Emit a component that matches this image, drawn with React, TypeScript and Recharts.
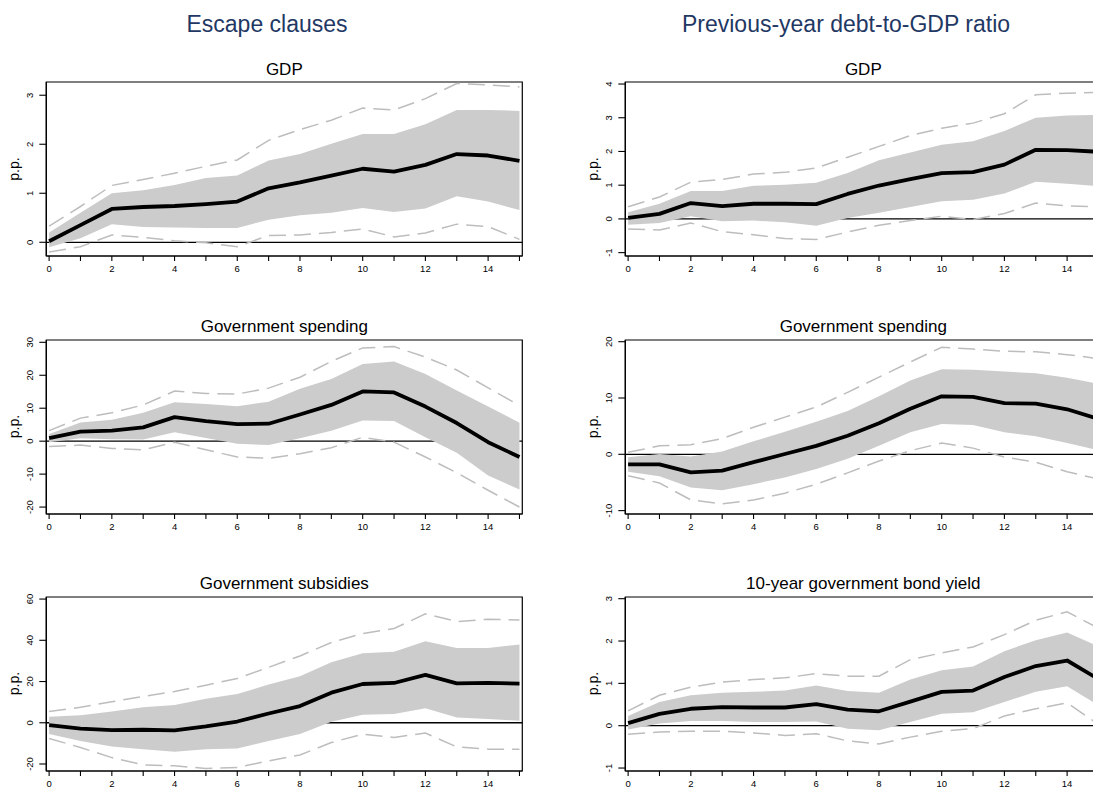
import React from 'react';
import { ComposedChart, Area, Line, XAxis, YAxis, ReferenceLine, ReferenceArea } from 'recharts';

const FONT = "'Liberation Sans', Arial, Helvetica, sans-serif";

// ---- data ----
const horizons = [0, 1, 2, 3, 4, 5, 6, 7, 8, 9, 10, 11, 12, 13, 14, 15];

const columnTitles = ['Escape clauses', 'Previous-year debt-to-GDP ratio'];

// Escape clauses – GDP
const escGdpMean = [0.02, 0.35, 0.68, 0.72, 0.74, 0.78, 0.83, 1.10, 1.22, 1.36, 1.50, 1.44, 1.58, 1.80, 1.77, 1.66];
const escGdpBandHi = [0.20, 0.60, 1.00, 1.06, 1.17, 1.31, 1.36, 1.67, 1.80, 2.01, 2.21, 2.21, 2.41, 2.70, 2.70, 2.68];
const escGdpBandLo = [-0.10, 0.08, 0.37, 0.31, 0.30, 0.29, 0.29, 0.46, 0.55, 0.60, 0.70, 0.62, 0.69, 0.94, 0.83, 0.66];
const escGdpCiHi = [0.33, 0.73, 1.16, 1.28, 1.41, 1.55, 1.68, 2.08, 2.30, 2.49, 2.74, 2.70, 2.93, 3.24, 3.21, 3.17];
const escGdpCiLo = [-0.20, -0.09, 0.15, 0.10, 0.03, -0.01, -0.09, 0.14, 0.15, 0.20, 0.27, 0.11, 0.19, 0.37, 0.32, 0.06];

// Debt ratio – GDP
const debtGdpMean = [0.03, 0.15, 0.47, 0.38, 0.45, 0.45, 0.44, 0.74, 0.99, 1.18, 1.36, 1.39, 1.61, 2.05, 2.04, 1.99];
const debtGdpBandHi = [0.20, 0.45, 0.83, 0.83, 0.98, 1.01, 1.07, 1.36, 1.74, 1.97, 2.20, 2.30, 2.61, 3.00, 3.07, 3.08];
const debtGdpBandLo = [-0.17, -0.12, 0.08, -0.07, -0.05, -0.10, -0.20, 0.03, 0.18, 0.35, 0.52, 0.57, 0.75, 1.10, 1.04, 0.97];
const debtGdpCiHi = [0.36, 0.65, 1.09, 1.17, 1.33, 1.38, 1.51, 1.83, 2.15, 2.47, 2.69, 2.84, 3.12, 3.68, 3.73, 3.75];
const debtGdpCiLo = [-0.30, -0.33, -0.12, -0.38, -0.47, -0.58, -0.61, -0.39, -0.19, -0.05, 0.08, -0.02, 0.16, 0.47, 0.39, 0.36];

// Escape clauses – Government spending
const escGovMean = [0.9, 2.9, 3.2, 4.2, 7.3, 6.1, 5.2, 5.3, 8.1, 11.0, 15.1, 14.8, 10.5, 5.5, -0.3, -4.8];
const escGovBandHi = [2.2, 5.7, 6.5, 8.6, 11.8, 11.3, 10.6, 12.0, 15.9, 18.9, 23.4, 24.2, 20.4, 15.4, 10.5, 5.6];
const escGovBandLo = [-0.3, 0.9, 0.6, 0.5, 2.7, 1.0, -0.8, -1.2, 0.9, 3.2, 6.3, 6.1, 1.2, -3.5, -10.4, -14.7];
const escGovCiHi = [3.2, 7.0, 8.6, 11.0, 15.2, 14.5, 14.3, 16.1, 19.4, 24.2, 28.3, 28.7, 25.5, 21.6, 16.2, 10.8];
const escGovCiLo = [-1.6, -1.2, -2.2, -2.6, -0.3, -2.6, -4.8, -5.2, -3.8, -2.0, 1.2, -0.3, -4.8, -9.6, -14.9, -20.0];

// Debt ratio – Government spending
const debtGovMean = [-1.8, -1.8, -3.2, -2.9, -1.4, 0.05, 1.5, 3.3, 5.5, 8.1, 10.3, 10.2, 9.1, 9.0, 8.0, 6.3];
const debtGovBandHi = [-0.5, 0.05, -0.4, 0.5, 2.3, 4.0, 5.8, 7.7, 10.3, 13.1, 15.1, 15.0, 14.7, 14.4, 13.6, 12.5];
const debtGovBandLo = [-3.1, -3.9, -5.9, -6.4, -5.3, -4.1, -2.6, -0.8, 1.5, 3.9, 5.4, 5.2, 3.9, 3.2, 2.0, 0.7];
const debtGovCiHi = [0.35, 1.5, 1.7, 2.8, 4.8, 6.6, 8.4, 11.0, 13.7, 16.4, 19.0, 18.7, 18.3, 18.2, 17.7, 17.0];
const debtGovCiLo = [-3.8, -5.1, -8.1, -8.8, -8.1, -6.9, -5.3, -3.3, -1.2, 0.65, 2.0, 1.1, -0.5, -1.4, -3.1, -4.4];

// Escape clauses – Government subsidies
const escSubMean = [-1.1, -2.8, -3.6, -3.4, -3.7, -1.8, 0.6, 4.5, 8.1, 14.6, 18.8, 19.3, 23.2, 19.1, 19.3, 19.0];
const escSubBandHi = [2.9, 3.7, 5.5, 7.5, 8.6, 11.7, 13.9, 18.5, 22.5, 29.3, 33.7, 34.5, 39.5, 36.3, 36.3, 37.9];
const escSubBandLo = [-5.5, -8.8, -11.5, -12.8, -14.1, -12.8, -12.5, -8.8, -5.5, 0.5, 3.9, 4.2, 7.0, 2.6, 1.8, 1.0];
const escSubCiHi = [5.5, 7.5, 10.2, 12.8, 15.2, 18.2, 21.5, 26.9, 32.4, 38.9, 43.3, 45.7, 52.8, 49.1, 50.2, 49.9];
const escSubCiLo = [-7.6, -12.0, -16.9, -20.4, -20.9, -22.2, -21.7, -18.5, -15.6, -9.6, -5.5, -7.1, -5.0, -11.7, -12.8, -12.8];

// Debt ratio – 10-year government bond yield
const debtBondMean = [0.06, 0.28, 0.40, 0.44, 0.43, 0.43, 0.51, 0.38, 0.34, 0.57, 0.80, 0.83, 1.15, 1.41, 1.54, 1.10];
const debtBondBandHi = [0.23, 0.56, 0.72, 0.78, 0.80, 0.83, 0.95, 0.82, 0.78, 1.09, 1.31, 1.40, 1.76, 2.02, 2.20, 1.87];
const debtBondBandLo = [-0.09, 0.05, 0.11, 0.11, 0.09, 0.09, 0.10, -0.07, -0.11, 0.09, 0.28, 0.32, 0.56, 0.80, 0.93, 0.48];
const debtBondCiHi = [0.35, 0.72, 0.91, 1.03, 1.09, 1.13, 1.23, 1.17, 1.17, 1.56, 1.72, 1.86, 2.15, 2.49, 2.69, 2.30];
const debtBondCiLo = [-0.20, -0.15, -0.13, -0.13, -0.17, -0.23, -0.19, -0.36, -0.43, -0.27, -0.13, -0.07, 0.23, 0.40, 0.54, 0.03];

// tick labels
const ticksGdpEsc = [0, 1, 2, 3];
const ticksGdpDebt = [-1, 0, 1, 2, 3, 4];
const ticksGovEsc = [-20, -10, 0, 10, 20, 30];
const ticksGovDebt = [-10, 0, 10, 20];
const ticksSubEsc = [-20, 0, 20, 40, 60];
const ticksBondDebt = [-1, 0, 1, 2, 3];

// ---- layout ----
const X_DOMAIN: [number, number] = [-0.09, 15.09];
const COL_LEFT = [0, 579];
const ROW_BOX_TOP = [82, 339.5, 596.5];
const BOX_H = 174;
const Y_W = 46.3;
const PLOT_W = 476;
const M_TOP = 4;
const X_H = 30;
const CHART_W = Y_W + PLOT_W + 10;
const CHART_H = M_TOP + BOX_H + X_H;

const panels = [
  { col: 0, row: 0, title: 'GDP', domain: [-0.28, 3.27], ticks: ticksGdpEsc, mean: escGdpMean, bandLo: escGdpBandLo, bandHi: escGdpBandHi, ciLo: escGdpCiLo, ciHi: escGdpCiHi },
  { col: 1, row: 0, title: 'GDP', domain: [-1.10, 4.06], ticks: ticksGdpDebt, mean: debtGdpMean, bandLo: debtGdpBandLo, bandHi: debtGdpBandHi, ciLo: debtGdpCiLo, ciHi: debtGdpCiHi },
  { col: 0, row: 1, title: 'Government spending', domain: [-22.1, 30.7], ticks: ticksGovEsc, mean: escGovMean, bandLo: escGovBandLo, bandHi: escGovBandHi, ciLo: escGovCiLo, ciHi: escGovCiHi },
  { col: 1, row: 1, title: 'Government spending', domain: [-10.6, 20.3], ticks: ticksGovDebt, mean: debtGovMean, bandLo: debtGovBandLo, bandHi: debtGovBandHi, ciLo: debtGovCiLo, ciHi: debtGovCiHi },
  { col: 0, row: 2, title: 'Government subsidies', domain: [-23.4, 61.0], ticks: ticksSubEsc, mean: escSubMean, bandLo: escSubBandLo, bandHi: escSubBandHi, ciLo: escSubCiLo, ciHi: escSubCiHi },
  { col: 1, row: 2, title: '10-year government bond yield', domain: [-1.07, 3.04], ticks: ticksBondDebt, mean: debtBondMean, bandLo: debtBondBandLo, bandHi: debtBondBandHi, ciLo: debtBondCiLo, ciHi: debtBondCiHi },
];

const XTick = (props: any) => {
  const { x, y, payload } = props;
  if (payload.value % 2 !== 0) return <g />;
  return (
    <text x={x} y={y + 9.4} textAnchor="middle" fontSize={9.5} fill="#000" fontFamily={FONT}>
      {payload.value}
    </text>
  );
};

const YTick = (props: any) => {
  const { x, y, payload } = props;
  const ax = x - 4.6;
  return (
    <text x={ax} y={y} transform={`rotate(-90 ${ax} ${y})`} textAnchor="middle" fontSize={9.5} fill="#000" fontFamily={FONT}>
      {payload.value}
    </text>
  );
};

function Panel({ p }: { p: any }) {
  const data = horizons.map((h, i) => ({
    h,
    mean: p.mean[i],
    band: [p.bandLo[i], p.bandHi[i]],
    ciLo: p.ciLo[i],
    ciHi: p.ciHi[i],
  }));
  const top = ROW_BOX_TOP[p.row] - M_TOP;
  const margin = { top: M_TOP, right: 10, bottom: 0, left: 0 };
  return (
    <>
      {/* bottom layer: zero line (drawn first so the band covers it) */}
      <div style={{ position: 'absolute', left: COL_LEFT[p.col], top }}>
        <ComposedChart width={CHART_W} height={CHART_H} data={data} margin={margin}>
          <XAxis dataKey="h" type="number" domain={X_DOMAIN} allowDataOverflow height={X_H} tick={false} tickLine={false} axisLine={false} />
          <YAxis type="number" domain={p.domain} allowDataOverflow width={Y_W} tick={false} tickLine={false} axisLine={false} />
          <ReferenceLine y={0} stroke="#000" strokeWidth={1.3} />
        </ComposedChart>
      </div>
      {/* top layer: band, bounds, response, axes, frame */}
      <div style={{ position: 'absolute', left: COL_LEFT[p.col], top }}>
        <ComposedChart width={CHART_W} height={CHART_H} data={data} margin={margin}>
          <XAxis
            dataKey="h"
            type="number"
            domain={X_DOMAIN}
            allowDataOverflow
            ticks={horizons}
            interval={0}
            height={X_H}
            tickSize={5}
            tickMargin={2}
            tickLine={{ stroke: '#000', strokeWidth: 1.1 }}
            axisLine={{ stroke: '#000', strokeWidth: 1.2 }}
            tick={<XTick />}
          />
          <YAxis
            type="number"
            domain={p.domain}
            allowDataOverflow
            ticks={p.ticks}
            interval={0}
            width={Y_W}
            tickSize={7}
            tickMargin={2}
            tickLine={{ stroke: '#000', strokeWidth: 1.1 }}
            axisLine={{ stroke: '#000', strokeWidth: 1.2 }}
            tick={<YTick />}
          />
          <Area dataKey="band" type="linear" stroke="none" fill="#cccccc" fillOpacity={1} isAnimationActive={false} />
          <Line dataKey="ciHi" type="linear" stroke="#bdbdbd" strokeWidth={1.5} strokeDasharray="17 8" dot={false} activeDot={false} isAnimationActive={false} />
          <Line dataKey="ciLo" type="linear" stroke="#bdbdbd" strokeWidth={1.5} strokeDasharray="17 8" dot={false} activeDot={false} isAnimationActive={false} />
          <Line dataKey="mean" type="linear" stroke="#000" strokeWidth={3.8} strokeLinejoin="round" dot={false} activeDot={false} isAnimationActive={false} />
          <ReferenceArea x1={X_DOMAIN[0]} x2={X_DOMAIN[1]} y1={p.domain[0]} y2={p.domain[1]} fill="none" fillOpacity={0} stroke="#000" strokeWidth={1.2} />
        </ComposedChart>
      </div>
    </>
  );
}

export default function App() {
  return (
    <div style={{ position: 'absolute', left: 0, top: 0, width: 1093, height: 787, overflow: 'hidden', background: '#fff' }}>
      {panels.map((p, i) => (
        <Panel key={i} p={p} />
      ))}
      <svg width={1093} height={787} style={{ position: 'absolute', left: 0, top: 0, pointerEvents: 'none' }}>
        {columnTitles.map((t, c) => (
          <text key={t} x={c === 0 ? 267 : 846} y={32} textAnchor="middle" fontSize={23} fill="#1f3864" fontFamily={FONT}>
            {t}
          </text>
        ))}
        {panels.map((p, i) => {
          const boxLeft = COL_LEFT[p.col] + Y_W;
          const cx = boxLeft + PLOT_W / 2;
          const boxTop = ROW_BOX_TOP[p.row];
          const cy = boxTop + BOX_H / 2;
          const lx = COL_LEFT[p.col] + 18.5;
          return (
            <g key={i}>
              <text x={cx} y={boxTop - 7.5} textAnchor="middle" fontSize={17} fill="#000" fontFamily={FONT}>
                {p.title}
              </text>
              <text x={lx} y={cy} transform={`rotate(-90 ${lx} ${cy})`} textAnchor="middle" fontSize={14} fill="#000" fontFamily={FONT}>
                p.p.
              </text>
            </g>
          );
        })}
      </svg>
    </div>
  );
}
